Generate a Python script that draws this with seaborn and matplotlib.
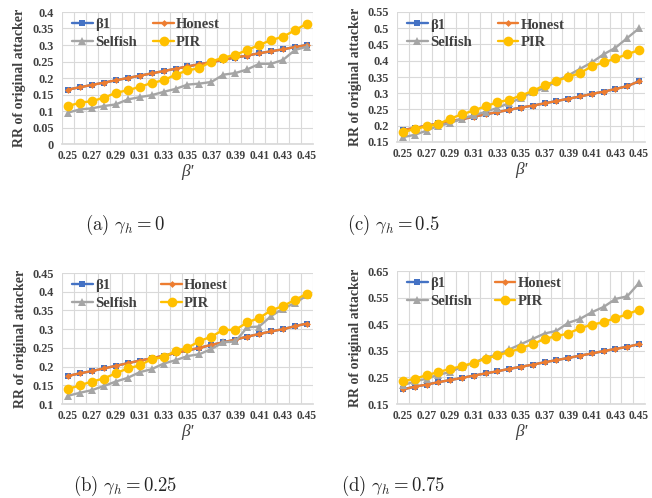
import matplotlib
matplotlib.use("Agg")
import matplotlib.pyplot as plt
from matplotlib.ticker import FixedLocator, FuncFormatter
import seaborn as sns
import numpy as np

# x axis: beta' from 0.25 to 0.45
beta_prime = [0.25, 0.26, 0.27, 0.28, 0.29, 0.30, 0.31, 0.32, 0.33, 0.34, 0.35,
              0.36, 0.37, 0.38, 0.39, 0.40, 0.41, 0.42, 0.43, 0.44, 0.45]
tick_labels = ["0.25", "0.27", "0.29", "0.31", "0.33", "0.35", "0.37", "0.39", "0.41", "0.43", "0.45"]

# gamma_h = 0
b1_g0 = [0.165, 0.172, 0.179, 0.186, 0.193, 0.200, 0.207, 0.214, 0.221, 0.228, 0.235,
         0.242, 0.248, 0.255, 0.262, 0.268, 0.275, 0.281, 0.287, 0.294, 0.300]
honest_g0 = [0.165, 0.172, 0.179, 0.186, 0.193, 0.200, 0.207, 0.214, 0.221, 0.228, 0.235,
             0.242, 0.248, 0.255, 0.262, 0.268, 0.275, 0.281, 0.287, 0.294, 0.300]
selfish_g0 = [0.095, 0.105, 0.108, 0.115, 0.120, 0.135, 0.142, 0.148, 0.158, 0.167, 0.180,
              0.183, 0.188, 0.210, 0.215, 0.226, 0.243, 0.243, 0.255, 0.285, 0.295]
pir_g0 = [0.115, 0.125, 0.130, 0.140, 0.155, 0.163, 0.173, 0.185, 0.193, 0.210, 0.223,
          0.230, 0.250, 0.262, 0.270, 0.285, 0.300, 0.315, 0.325, 0.345, 0.365]

# gamma_h = 0.25
b1_g25 = [0.175, 0.182, 0.188, 0.195, 0.202, 0.209, 0.216, 0.222, 0.229, 0.236, 0.243,
          0.250, 0.258, 0.265, 0.272, 0.280, 0.287, 0.294, 0.300, 0.308, 0.315]
honest_g25 = [0.175, 0.182, 0.188, 0.195, 0.202, 0.209, 0.216, 0.222, 0.229, 0.236, 0.243,
              0.250, 0.258, 0.265, 0.272, 0.280, 0.287, 0.294, 0.300, 0.308, 0.315]
selfish_g25 = [0.122, 0.130, 0.137, 0.148, 0.160, 0.170, 0.185, 0.193, 0.208, 0.217, 0.228,
               0.233, 0.247, 0.265, 0.267, 0.305, 0.307, 0.335, 0.355, 0.370, 0.390]
pir_g25 = [0.140, 0.150, 0.160, 0.168, 0.182, 0.195, 0.203, 0.220, 0.225, 0.242, 0.250,
           0.268, 0.280, 0.298, 0.298, 0.318, 0.330, 0.350, 0.362, 0.378, 0.395]

# gamma_h = 0.5
b1_g50 = [0.187, 0.193, 0.200, 0.207, 0.214, 0.220, 0.228, 0.235, 0.242, 0.249, 0.256,
          0.262, 0.269, 0.276, 0.283, 0.290, 0.298, 0.305, 0.313, 0.322, 0.337]
honest_g50 = [0.187, 0.193, 0.200, 0.207, 0.214, 0.220, 0.228, 0.235, 0.242, 0.249, 0.256,
              0.262, 0.269, 0.276, 0.283, 0.290, 0.298, 0.305, 0.313, 0.322, 0.337]
selfish_g50 = [0.165, 0.172, 0.185, 0.200, 0.208, 0.222, 0.232, 0.243, 0.255, 0.270, 0.285,
               0.305, 0.315, 0.338, 0.355, 0.375, 0.395, 0.420, 0.440, 0.470, 0.500]
pir_g50 = [0.180, 0.190, 0.198, 0.205, 0.222, 0.235, 0.247, 0.260, 0.272, 0.280, 0.293,
           0.307, 0.325, 0.338, 0.350, 0.362, 0.383, 0.395, 0.407, 0.420, 0.433]

# gamma_h = 0.75
b1_g75 = [0.205, 0.215, 0.223, 0.232, 0.240, 0.248, 0.257, 0.265, 0.273, 0.282, 0.290,
          0.298, 0.307, 0.315, 0.323, 0.332, 0.340, 0.349, 0.357, 0.365, 0.375]
honest_g75 = [0.205, 0.215, 0.223, 0.232, 0.240, 0.248, 0.257, 0.265, 0.273, 0.282, 0.290,
              0.298, 0.307, 0.315, 0.323, 0.332, 0.340, 0.349, 0.357, 0.365, 0.375]
selfish_g75 = [0.220, 0.235, 0.245, 0.260, 0.270, 0.290, 0.305, 0.325, 0.335, 0.355, 0.375,
               0.395, 0.415, 0.425, 0.455, 0.470, 0.495, 0.515, 0.545, 0.555, 0.605]
pir_g75 = [0.235, 0.245, 0.258, 0.270, 0.282, 0.292, 0.305, 0.320, 0.333, 0.345, 0.360,
           0.375, 0.395, 0.405, 0.415, 0.435, 0.448, 0.458, 0.473, 0.487, 0.505]

sns.set_theme(style="white")
plt.rcParams['font.family'] = ['Liberation Serif', 'DejaVu Serif']
plt.rcParams['mathtext.fontset'] = 'cm'

fig = plt.figure(figsize=(6.52, 4.98), dpi=100)

# panel settings: (rect, series, y limits, y step, caption, caption position, legend col gap)
panels = [
    ([62/652, 354/498, 251/652, 132/498], (b1_g0, honest_g0, selfish_g0, pir_g0),
     (0, 0.4), 0.05, r"$\mathrm{(a)}\ \gamma_h = 0$", (125/652, 1 - 225/498), 1.15),
    ([397/652, 356/498, 248/652, 130/498], (b1_g50, honest_g50, selfish_g50, pir_g50),
     (0.15, 0.55), 0.05, r"$\mathrm{(c)}\ \gamma_h = 0.5$", (393/652, 1 - 225/498), 1.8),
    ([62/652, 94/498, 251/652, 131/498], (b1_g25, honest_g25, selfish_g25, pir_g25),
     (0.1, 0.45), 0.05, r"$\mathrm{(b)}\ \gamma_h = 0.25$", (125/652, 1 - 486/498), 1.7),
    ([397/652, 94/498, 248/652, 133/498], (b1_g75, honest_g75, selfish_g75, pir_g75),
     (0.15, 0.65), 0.1, r"$\mathrm{(d)}\ \gamma_h = 0.75$", (393/652, 1 - 486/498), 1.6),
]

names = ["β1", "Honest", "Selfish", "PIR"]
colors = ["#4472C4", "#ED7D31", "#A5A5A5", "#FFC000"]
markers = ["s", "D", "^", "o"]
msizes = [5, 3.5, 5.5, 7]

for rect, series, ylim, ystep, caption, cpos, colgap in panels:
    ax = fig.add_axes(rect)
    for vals, name, c, m, ms in zip(series, names, colors, markers, msizes):
        sns.lineplot(x=beta_prime, y=vals, ax=ax, color=c, marker=m, markersize=ms,
                     markeredgewidth=0, linewidth=1.7, label=name)
    ax.set_xlim(0.245, 0.455)
    ax.set_ylim(*ylim)
    # vertical gridlines sit between categories (Excel style)
    ax.xaxis.set_minor_locator(FixedLocator(np.arange(0.245, 0.4551, 0.01)))
    ax.set_xticks(beta_prime[::2])
    ax.set_xticklabels(tick_labels)
    ax.set_yticks(np.arange(ylim[0], ylim[1] + 1e-9, ystep))
    ax.yaxis.set_major_formatter(FuncFormatter(lambda v, p: f"{round(v, 3):g}"))
    ax.grid(False)
    ax.grid(True, which='minor', axis='x', color='#D9D9D9', linewidth=0.8)
    ax.grid(True, which='major', axis='y', color='#D9D9D9', linewidth=0.8)
    ax.tick_params(which='both', length=0, pad=4)
    ax.tick_params(axis='x', labelsize=8.3)
    ax.tick_params(axis='y', labelsize=8.8, pad=6)
    for lab in ax.get_xticklabels() + ax.get_yticklabels():
        lab.set_fontweight('bold')
        lab.set_color('#404040')
    for s in ['top', 'right', 'left']:
        ax.spines[s].set_visible(False)
    ax.spines['bottom'].set_color('#D9D9D9')
    ax.set_xlabel("β'", fontsize=12.5, style='italic', labelpad=2, color='#404040')
    ax.set_ylabel("RR of original attacker", fontsize=10, fontweight='bold', labelpad=4,
                  color='#404040')
    # legend filled row by row: β1, Honest / Selfish, PIR
    h, l = ax.get_legend_handles_labels()
    order = [0, 2, 1, 3]
    ax.legend([h[i] for i in order], [l[i] for i in order], ncol=2, loc='upper left',
              bbox_to_anchor=(0.0, 1.03), frameon=False, labelcolor='#404040',
              prop={'weight': 'bold', 'size': 10.5}, handlelength=1.4, handletextpad=0.15,
              columnspacing=colgap, labelspacing=0.3, borderpad=0.2)
    fig.text(cpos[0], cpos[1], caption, ha='center', va='center', fontsize=13.5)

fig.savefig("out.png", dpi=100, facecolor='white')
